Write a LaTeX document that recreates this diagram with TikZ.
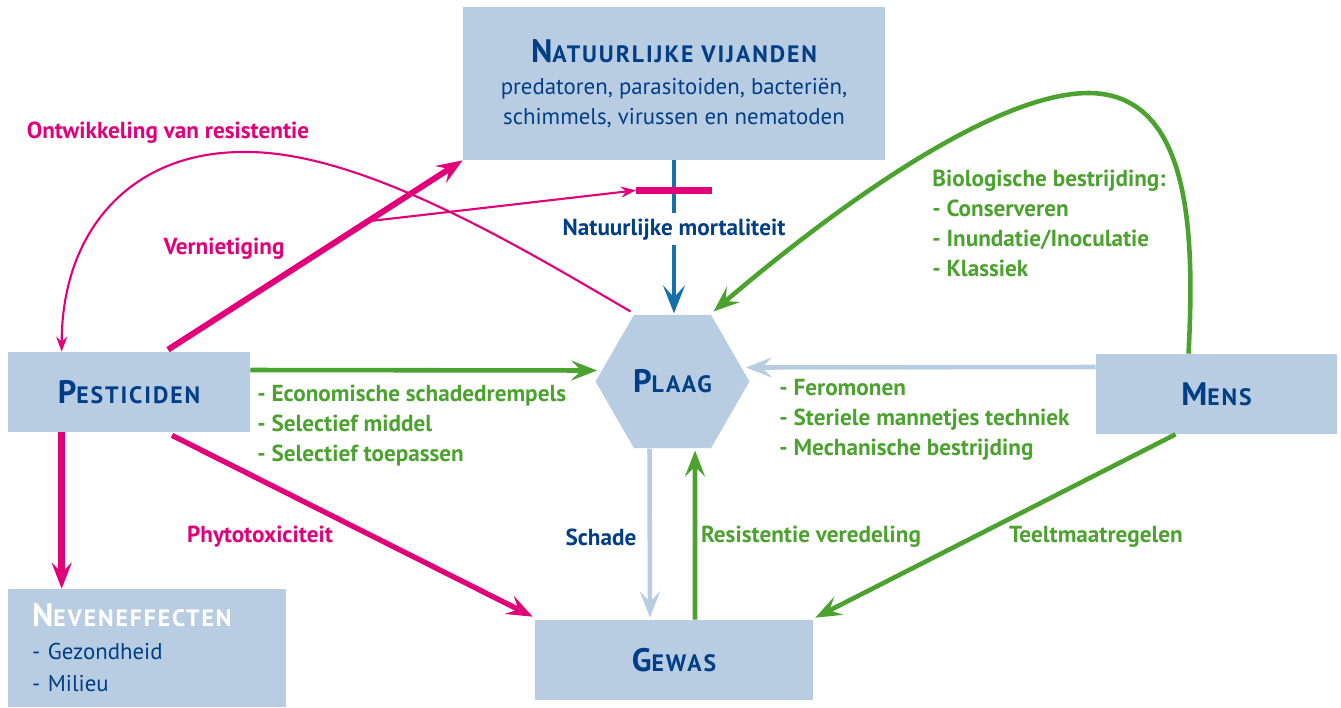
\documentclass[tikz,border=0pt]{standalone}
\usepackage{fontspec}
\setmainfont{PT Sans}
\newfontfamily\trackfont[LetterSpace=8]{PT Sans}
\usetikzlibrary{positioning, arrows.meta, calc, shapes.geometric}
\definecolor{boxblue}{RGB}{184,204,226}
\definecolor{textblue}{RGB}{0,62,134}
\definecolor{linkblue}{RGB}{22,112,170}
\definecolor{pestpink}{RGB}{226,0,122}
\definecolor{actgreen}{RGB}{76,162,47}

% fake small capitals
\newcommand{\smcap}[2]{{\trackfont\bfseries{\fontsize{18.5}{20}\selectfont #1}{\fontsize{13.5}{15}\selectfont #2}}}

\tikzset{
  box/.style={fill=boxblue, draw=none, inner sep=0pt, text=textblue, font=\bfseries},
  lbl/.style={font=\fontsize{13.2}{17.07}\selectfont\bfseries, inner sep=0pt, align=left},
  bigtip/.style={-{Stealth[length=0.52cm, width=0.4cm, inset=0.2cm]}},
  smalltip/.style={-{Stealth[length=0.3cm, width=0.22cm, inset=0.1cm]}},
  pinkbold/.style={draw=pestpink, line width=3.4pt, bigtip},
  pinkthin/.style={draw=pestpink, line width=1.2pt, smalltip},
  greenlink/.style={draw=actgreen, line width=2.6pt, bigtip},
  paleblue/.style={draw=boxblue, line width=2.6pt, bigtip},
}

\begin{document}
\begin{tikzpicture}[x=0.02cm, y=-0.02cm]
  \useasboundingbox (0,0) rectangle (1341,707);

  % boxes
  \node[box, minimum width=8.44cm, minimum height=3.06cm, align=center,
        font=\fontsize{13}{17.07}\selectfont] (nat) at (674,83.5)
    {\smcap{N}{ATUURLIJKE VIJANDEN}\\[1pt]
     \mdseries predatoren, parasitoiden, bacteriën,\\
     schimmels, virussen en nematoden};
  \node[box, minimum width=4.84cm, minimum height=1.6cm] (pest) at (129,392)
    {\smcap{P}{ESTICIDEN}};
  \node[box, minimum width=4.82cm, minimum height=1.6cm] (mens) at (1216.5,394)
    {\smcap{M}{ENS}};
  \node[box, minimum width=5.56cm, minimum height=1.6cm] (gewas) at (674,660)
    {\smcap{G}{EWAS}};
  \node[box, text width=4.6cm, inner xsep=0.48cm, minimum height=2.36cm, align=left,
        font=\fontsize{13}{18.5}\selectfont] (nev) at (147,648)
    {\color{white}\smcap{N}{EVENEFFECTEN}\\
     \color{textblue}\mdseries - Gezondheid\\
     - Milieu};
  \node[box, regular polygon, regular polygon sides=6, minimum size=3.08cm] (plaag)
    at (672.5,381.5) {\smcap{P}{LAAG}};

  % natural mortality and its blocking
  \draw[draw=linkblue, line width=2.3pt,
        -{Stealth[length=0.56cm, width=0.44cm, inset=0.24cm]}]
    (nat.south) -- ($(nat.south)+(0,153)$)
    node[pos=0.45, fill=white, inner ysep=3pt, inner xsep=1pt, text=textblue,
         font=\fontsize{13.2}{15}\selectfont\bfseries] (mort) {Natuurlijke mortaliteit};
  \coordinate (barL) at ($(nat.south)+(-38,30)$);
  \coordinate (barR) at ($(nat.south)+(38,30)$);
  \draw[draw=pestpink, line width=4pt] (barL) -- (barR);

  % pesticides
  \draw[pinkbold] ($(pest.north)+(39,-2)$) -- (nat.south west)
    coordinate[pos=0.678] (vern);
  \draw[pinkthin] (vern) -- (barL);
  \draw[pinkthin] ($(plaag.north)+(-42,-3)$)
    .. controls (520,247) and (360,150) .. (243,152)
    .. controls (130,152) and ($(pest.north west)+(54,-120)$) .. ($(pest.north west)+(54,0)$);
  \coordinate (nevtop) at ($(pest.south west)+(54,0)$);
  \draw[pinkbold, line width=4pt] (nevtop) -- (nevtop |- nev.north);
  \draw[pinkbold, line width=3pt] ($(pest.south)+(43,3)$) -- ($(gewas.north west)+(-2,-3)$);
  \draw[greenlink] ($(pest.east)+(0,-22)$) -- ($(plaag.west)+(2,-11)$);

  % man
  \draw[paleblue] ($(mens.west)+(0,-27)$) -- ($(plaag.east)+(-4,-14)$);
  \draw[greenlink] ($(mens.north)+(-28,0)$)
    .. controls (1195,230) and (1190,95) .. (1090,93)
    .. controls (990,92) and (820,220) .. ($(plaag.north)+(41,-3)$);
  \draw[greenlink] ($(mens.south)+(-41,0)$) -- ($(gewas.north east)+(2,-2)$);

  % crop
  \draw[paleblue] ($(plaag.south)+(-23,0)$) -- ($(gewas.north)+(-24,-2)$);
  \draw[greenlink] ($(gewas.north)+(21,0)$) -- ($(plaag.south)+(22.5,2)$);

  % labels
  \node[lbl, text=pestpink] (ontwlbl) at (168,133) {Ontwikkeling van resistentie};
  \node[lbl, text=pestpink] (vernlbl) at (224,249) {Vernietiging};
  \node[lbl, text=pestpink] (phytolbl) at (260,537) {Phytotoxiciteit};
  \node[lbl, text=textblue] (schadelbl) at (601,537) {Schade};
  \node[lbl, text=actgreen] (verlbl) at (811,537) {Resistentie veredeling};
  \node[lbl, text=actgreen] (teeltlbl) at (1096,537) {Teeltmaatregelen};
  \node[lbl, text=actgreen, anchor=north west] (biolbl) at (932,170)
    {Biologische bestrijding:\\- Conserveren\\- Inundatie/Inoculatie\\- Klassiek};
  \node[lbl, text=actgreen, anchor=north west] (chemlbl) at (257,385)
    {- Economische schadedrempels\\- Selectief middel\\- Selectief toepassen};
  \node[lbl, text=actgreen, anchor=north west] (fyslbl) at (779,379)
    {- Feromonen\\- Steriele mannetjes techniek\\- Mechanische bestrijding};
\end{tikzpicture}
\end{document}
